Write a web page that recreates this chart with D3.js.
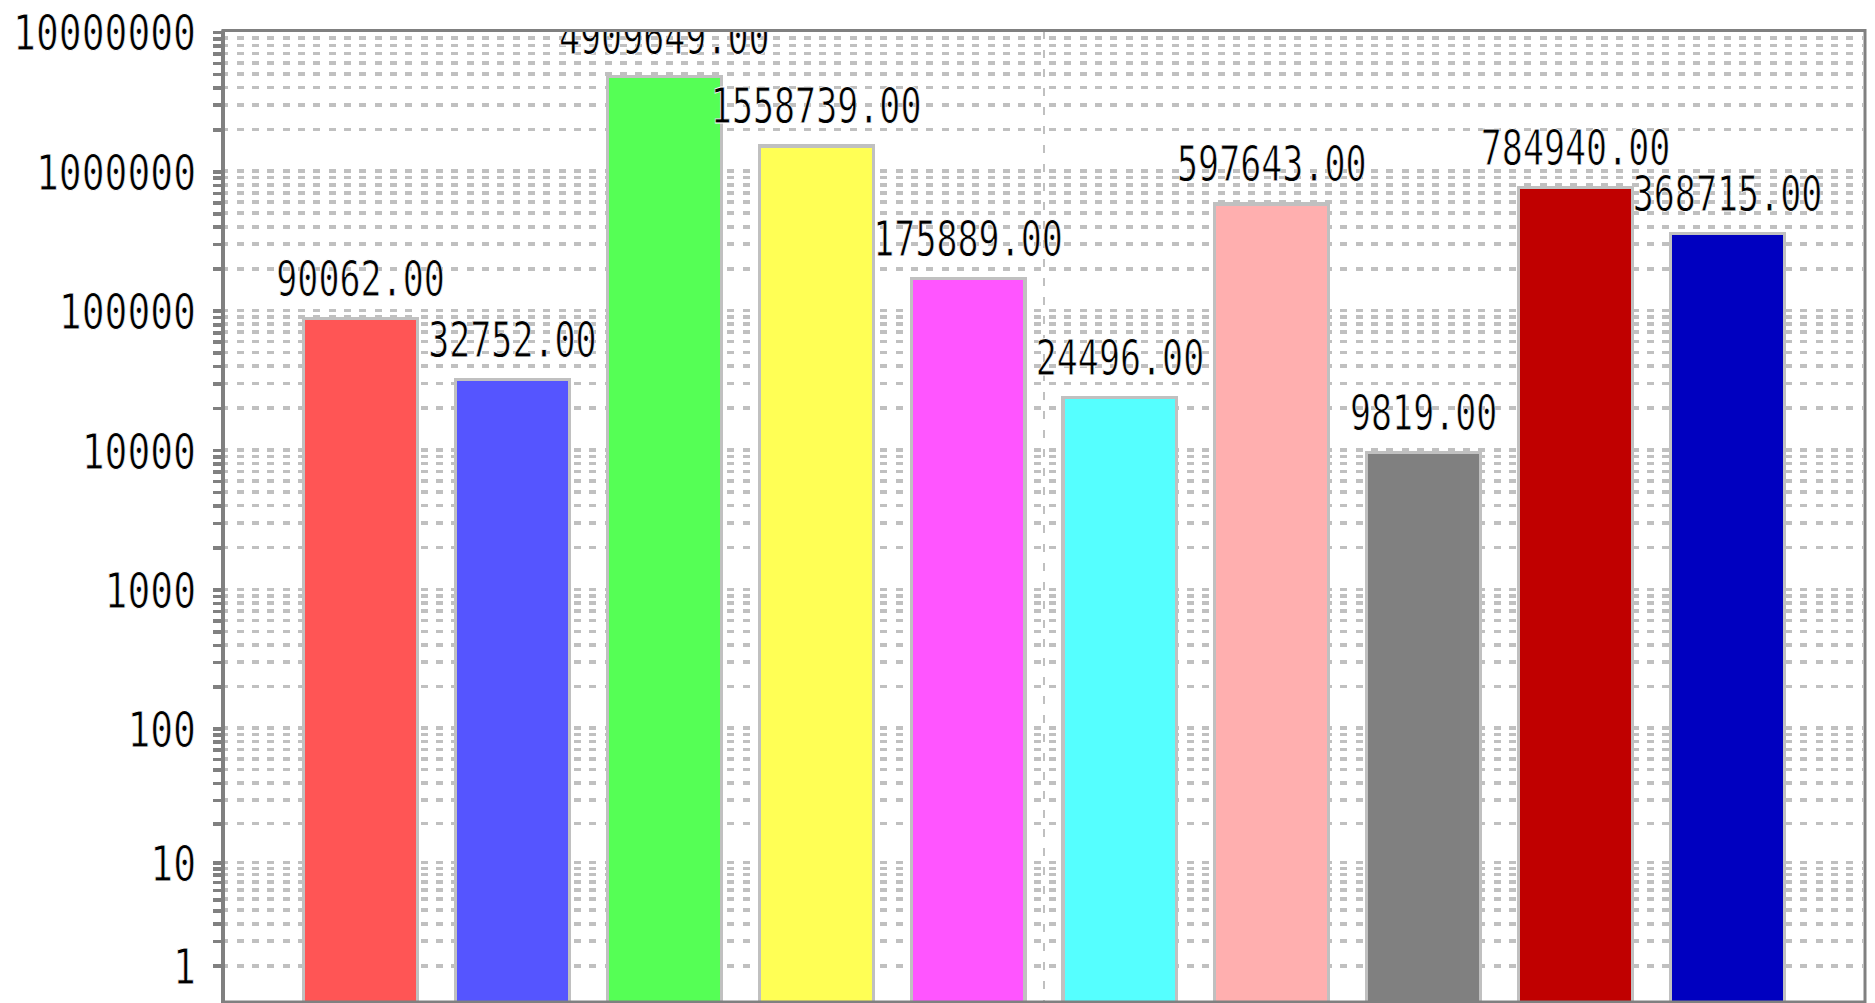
<!DOCTYPE html>
<html>
<head>
<meta charset="utf-8">
<script src="https://cdn.jsdelivr.net/npm/d3@7"></script>
<style>
  html, body { margin: 0; padding: 0; background: #ffffff; overflow: hidden; }
  svg { display: block; }
  .lbl { font-family: "DejaVu Sans Mono", "Liberation Mono", monospace; font-size: 50px; fill: #000;
         stroke: #ffffff; stroke-width: 0.8px; paint-order: normal; }
</style>
</head>
<body>
<div id="box1"><svg id="box1_svg"></svg></div>
<script>
"use strict";

// chart values
const categories = ["c1", "c2", "c3", "c4", "c5", "c6", "c7", "c8", "c9", "c10"];
const values = [90062, 32752, 4909649, 1558739, 175889, 24496, 597643, 9819, 784940, 368715];
const bar_colors = ["#ff5555", "#5555ff", "#55ff55", "#ffff55", "#ff55ff",
                    "#55ffff", "#ffafaf", "#808080", "#c00000", "#0000c0"];
const major_ticks = [1, 10, 100, 1000, 10000, 100000, 1000000, 10000000];

const W = 1875, H = 1003;

// plot frame
const p_left = 223, p_right = 1865, p_top = 30.5, p_bottom = 1002;

const svg = d3.select("#box1_svg").attr("width", W).attr("height", H);

svg.append("defs").append("clipPath").attr("id", "plot_clip")
  .append("rect")
  .attr("x", p_left).attr("y", p_top)
  .attr("width", p_right - p_left).attr("height", p_bottom - p_top);

// scales
const x = d3.scaleBand()
  .domain(categories)
  .range([p_left, p_right])
  .paddingInner(0.229)
  .paddingOuter(0.52);

const y = d3.scaleSymlog()
  .domain([0, 10000000])
  .range([1007.7, 31.9]);

// major + minor log ticks
const all_ticks = [];
major_ticks.forEach(t => {
  all_ticks.push(t);
  if (t < 10000000) for (let k = 2; k <= 9; k++) all_ticks.push(t * k);
});

// horizontal grid
const grid = svg.append("g").attr("clip-path", "url(#plot_clip)");
grid.selectAll("line.h")
  .data(all_ticks.filter(t => t < 10000000))
  .join("line")
  .attr("class", "h")
  .attr("x1", p_left + 2).attr("x2", p_right - 2)
  .attr("y1", d => y(d)).attr("y2", d => y(d))
  .attr("stroke", "#c0c0c0")
  .attr("stroke-width", 3.6)
  .attr("stroke-dasharray", "7 8.33")
  .attr("stroke-dashoffset", 3.7)
  .attr("shape-rendering", "crispEdges");

// vertical grid line in the middle
grid.append("line")
  .attr("x1", (p_left + p_right) / 2).attr("x2", (p_left + p_right) / 2)
  .attr("y1", p_top).attr("y2", p_bottom)
  .attr("stroke", "#c0c0c0")
  .attr("stroke-width", 2.7)
  .attr("stroke-dasharray", "8.5 10.5")
  .attr("shape-rendering", "crispEdges");

// bars
const bars = svg.append("g").attr("clip-path", "url(#plot_clip)");
bars.selectAll("rect")
  .data(values)
  .join("rect")
  .attr("x", (d, i) => x(categories[i]) + 1.6)
  .attr("width", x.bandwidth() - 3.2)
  .attr("y", d => y(d) + 1.6)
  .attr("height", d => p_bottom + 5 - y(d))
  .attr("fill", (d, i) => bar_colors[i])
  .attr("stroke", "#c0c0c0")
  .attr("stroke-width", 3.2)
  .attr("shape-rendering", "crispEdges");

// value labels
const labels = svg.append("g").attr("clip-path", "url(#plot_clip)");
labels.selectAll("text")
  .data(values)
  .join("text")
  .attr("class", "lbl")
  .attr("text-anchor", "middle")
  .attr("transform", (d, i) =>
    `translate(${x(categories[i]) + x.bandwidth() / 2},${y(d) - 21}) scale(0.7,1)`)
  .text(d => d3.format(".2f")(d));

// y axis
const y_axis = d3.axisLeft(y)
  .tickValues(all_ticks)
  .tickSize(10)
  .tickFormat(d => major_ticks.includes(d) ? d3.format("d")(d) : "");

const ax = svg.append("g")
  .attr("transform", `translate(${p_left},0)`)
  .call(y_axis);

ax.select(".domain").remove();
ax.selectAll(".tick line")
  .attr("stroke", "#808080")
  .attr("stroke-width", 3.6)
  .attr("shape-rendering", "crispEdges");
ax.selectAll(".tick text")
  .attr("class", "lbl")
  .attr("x", null)
  .attr("dy", null)
  .attr("text-anchor", "end")
  .attr("transform", "translate(-27,18) scale(0.76,1)");

// frame
svg.append("rect")
  .attr("x", p_left).attr("y", p_top)
  .attr("width", p_right - p_left).attr("height", p_bottom - p_top)
  .attr("fill", "none")
  .attr("stroke", "#808080")
  .attr("stroke-width", 3);

svg.append("line")
  .attr("x1", p_left).attr("x2", p_left)
  .attr("y1", p_top).attr("y2", H)
  .attr("stroke", "#808080")
  .attr("stroke-width", 4);
</script>
</body>
</html>
